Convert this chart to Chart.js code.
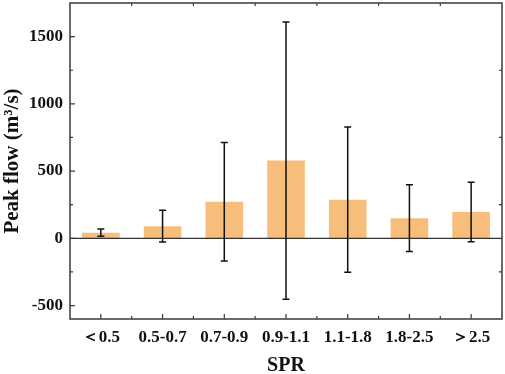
<!DOCTYPE html>
<html>
<head>
<meta charset="utf-8">
<script src="https://cdn.jsdelivr.net/npm/chart.js@4/dist/chart.umd.min.js"></script>
<style>
html,body{margin:0;padding:0;background:#fff;}
#wrap{width:505px;height:374px;position:relative;}
</style>
</head>
<body>
<div id="wrap"><canvas id="c" width="505" height="374"></canvas></div>
<script>
const categories = ['<0.5', '0.5-0.7', '0.7-0.9', '0.9-1.1', '1.1-1.8', '1.8-2.5', '>2.5'];
const categoryLabels = ['\uFF1C0.5', '0.5-0.7', '0.7-0.9', '0.9-1.1', '1.1-1.8', '1.8-2.5', '\uFF1E2.5'];
const peakFlow = [42, 90, 272, 578, 287, 150, 196];
const peakFlowSD = [27, 118, 440, 1031, 540, 248, 221];
const yTicks = [-500, 0, 500, 1000, 1500];
const yMinorTicks = [-500, -250, 0, 250, 500, 750, 1000, 1250, 1500];

const FONT = '"Liberation Serif", "Times New Roman", serif';
const frameColor = '#3a3a3a';

const framePlugin = {
  id: 'frame',
  afterDatasetsDraw(chart) {
    const ctx = chart.ctx;
    const a = chart.chartArea;
    const x = chart.scales.x, y = chart.scales.y;
    ctx.save();
    const y0 = y.getPixelForValue(0);
    ctx.strokeStyle = '#333';
    ctx.lineWidth = 1.3;
    ctx.beginPath(); ctx.moveTo(a.left, y0); ctx.lineTo(a.right, y0); ctx.stroke();
    const meta = chart.getDatasetMeta(0);
    ctx.strokeStyle = '#111';
    ctx.lineWidth = 1.5;
    peakFlow.forEach((v, i) => {
      const px = meta.data[i].x;
      const top = y.getPixelForValue(v + peakFlowSD[i]);
      const bot = y.getPixelForValue(v - peakFlowSD[i]);
      ctx.beginPath();
      ctx.moveTo(px, top); ctx.lineTo(px, bot);
      ctx.moveTo(px - 3.5, top); ctx.lineTo(px + 3.5, top);
      ctx.moveTo(px - 3.5, bot); ctx.lineTo(px + 3.5, bot);
      ctx.stroke();
    });
    ctx.strokeStyle = frameColor;
    ctx.lineWidth = 1.5;
    ctx.strokeRect(a.left, a.top, a.right - a.left, a.bottom - a.top);
    ctx.lineWidth = 1.2;
    ctx.beginPath();
    yMinorTicks.forEach(t => {
      const py = y.getPixelForValue(t);
      const major = yTicks.includes(t);
      ctx.moveTo(a.left, py); ctx.lineTo(a.left + (major ? 5 : 3), py);
      if (!major) { ctx.moveTo(a.right, py); ctx.lineTo(a.right - 3, py); }
    });
    const n = categories.length;
    for (let i = 0; i < n; i++) {
      const px = x.getPixelForValue(i);
      ctx.moveTo(px, a.bottom); ctx.lineTo(px, a.bottom - 5);
    }
    for (let i = 0; i < n - 1; i++) {
      const px = (x.getPixelForValue(i) + x.getPixelForValue(i + 1)) / 2;
      ctx.moveTo(px, a.bottom); ctx.lineTo(px, a.bottom - 3);
      ctx.moveTo(px, a.top); ctx.lineTo(px, a.top + 3);
    }
    ctx.stroke();
    ctx.restore();
  }
};

new Chart(document.getElementById('c'), {
  type: 'bar',
  data: {
    labels: categoryLabels,
    datasets: [{
      data: peakFlow,
      backgroundColor: 'rgb(246,190,122)',
      borderWidth: 0,
      categoryPercentage: 1.0,
      barPercentage: 0.61
    }]
  },
  options: {
    responsive: false,
    animation: false,
    devicePixelRatio: 1,
    layout: { padding: { top: 3, right: 3, left: 0, bottom: 0 } },
    plugins: { legend: { display: false }, tooltip: { enabled: false } },
    scales: {
      x: {
        grid: { display: false, drawTicks: false },
        border: { display: false },
        ticks: { color: '#111', font: { family: FONT, size: 17, weight: 'bold' }, padding: 8, maxRotation: 0, autoSkip: false },
        title: { display: true, text: 'SPR', color: '#111', font: { family: FONT, size: 20, weight: 'bold' }, padding: { top: 6, bottom: -4 } },
        afterFit(s) { s.height = 55; s.paddingLeft = 0; s.paddingRight = 0; }
      },
      y: {
        min: -600, max: 1750,
        grid: { display: false, drawTicks: false },
        border: { display: false },
        afterBuildTicks(s) { s.ticks = yTicks.map(v => ({ value: v })); },
        ticks: { color: '#111', font: { family: FONT, size: 17, weight: 'bold' }, padding: 7, callback: v => String(v) },
        title: { display: true, text: 'Peak flow (m\u00B3/s)', color: '#111', font: { family: FONT, size: 21, weight: 'bold' }, padding: { top: 0, bottom: 3 } },
        afterFit(s) { s.width = 70; s.paddingTop = 0; s.paddingBottom = 0; }
      }
    }
  },
  plugins: [framePlugin]
});
</script>
</body>
</html>
